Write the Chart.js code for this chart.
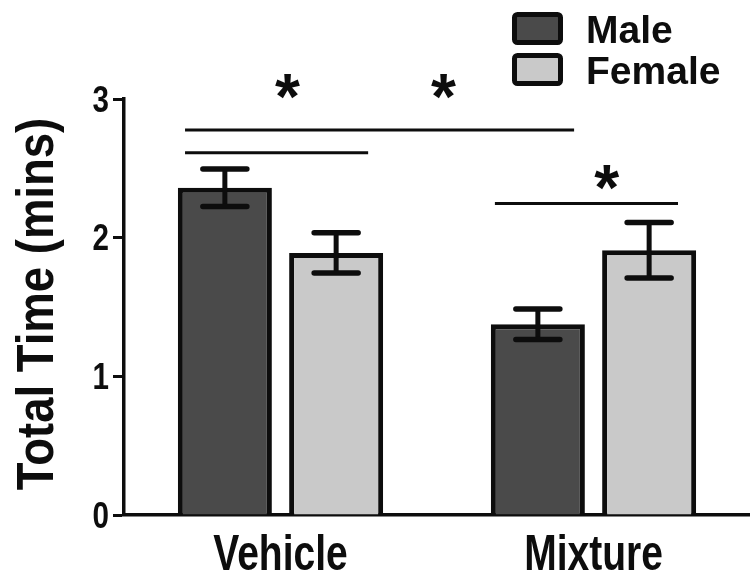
<!DOCTYPE html>
<html>
<head>
<meta charset="utf-8">
<script src="https://cdn.jsdelivr.net/npm/chart.js@4.4.1/dist/chart.umd.min.js"></script>
<style>
  html, body { margin: 0; padding: 0; background: #ffffff; }
  #wrap { width: 750px; height: 572px; }
</style>
</head>
<body>
<div id="wrap"><canvas id="c" width="750" height="572"></canvas></div>
<script>
// Groups and series
const categories = ['Vehicle', 'Mixture'];
const seriesNames = ['Male', 'Female'];

// Mean total time (mins) and SEM per group
const maleMeans = [2.36, 1.375];
const maleSem = [0.135, 0.11];
const femaleMeans = [1.89, 1.91];
const femaleSem = [0.145, 0.2];

// Y axis ticks
const yTicks = [0, 1, 2, 3];

// Significance bars: span along the category axis (index units) and height (mins)
const brackets = [
  { from: -0.305, to: 0.938, y: 2.776 },
  { from: -0.305, to: 0.28, y: 2.612 },
  { from: 0.685, to: 1.27, y: 2.247 }
];
const stars = [
  { x: 0.022, y: 3.09, text: '*' },
  { x: 0.521, y: 3.09, text: '*' },
  { x: 1.042, y: 2.433, text: '*' }
];

const INK = '#0d0d0d';
const MALE_FILL = '#4a4a4a';
const FEMALE_FILL = '#c9c9c9';
const SANS = '"Liberation Sans", Arial, Helvetica, sans-serif';

// Draws text squeezed horizontally (condensed axis lettering)
function condensedText(ctx, text, x, y, squeeze, align) {
  ctx.save();
  ctx.translate(x, y);
  ctx.scale(squeeze, 1);
  ctx.textAlign = align;
  ctx.fillText(text, 0, 0);
  ctx.restore();
}

// SEM error bars with caps
const errorBars = {
  id: 'errorBars',
  afterDatasetsDraw(chart) {
    const ctx = chart.ctx;
    const y = chart.scales.y;
    const sems = [maleSem, femaleSem];
    ctx.save();
    ctx.strokeStyle = INK;
    chart.data.datasets.forEach((ds, di) => {
      const meta = chart.getDatasetMeta(di);
      meta.data.forEach((bar, i) => {
        const v = ds.data[i];
        const top = y.getPixelForValue(v + sems[di][i]);
        const bot = y.getPixelForValue(v - sems[di][i]);
        ctx.lineWidth = 5;
        ctx.lineCap = 'butt';
        ctx.beginPath();
        ctx.moveTo(bar.x, top);
        ctx.lineTo(bar.x, bot);
        ctx.stroke();
        ctx.lineWidth = 5.5;
        ctx.lineCap = 'round';
        ctx.beginPath();
        ctx.moveTo(bar.x - 22, top); ctx.lineTo(bar.x + 22, top);
        ctx.moveTo(bar.x - 22, bot); ctx.lineTo(bar.x + 22, bot);
        ctx.stroke();
      });
    });
    ctx.restore();
  }
};

// Comparison lines and asterisks
const significance = {
  id: 'significance',
  afterDatasetsDraw(chart) {
    const ctx = chart.ctx;
    const xs = chart.scales.x, ys = chart.scales.y;
    ctx.save();
    ctx.strokeStyle = INK;
    ctx.lineWidth = 3;
    ctx.lineCap = 'butt';
    brackets.forEach(b => {
      const yy = ys.getPixelForValue(b.y);
      ctx.beginPath();
      ctx.moveTo(xs.getPixelForValue(b.from), yy);
      ctx.lineTo(xs.getPixelForValue(b.to), yy);
      ctx.stroke();
    });
    ctx.fillStyle = INK;
    ctx.font = 'bold 100px ' + SANS;
    const m0 = ctx.measureText('*');
    const ink0 = m0.actualBoundingBoxLeft + m0.actualBoundingBoxRight;
    const size = 25 / ink0 * 100;
    ctx.font = 'bold ' + size + 'px ' + SANS;
    ctx.textAlign = 'left';
    ctx.textBaseline = 'alphabetic';
    stars.forEach(s => {
      const m = ctx.measureText(s.text);
      const cx = xs.getPixelForValue(s.x);
      const cy = ys.getPixelForValue(s.y);
      const w = m.actualBoundingBoxLeft + m.actualBoundingBoxRight;
      const h = m.actualBoundingBoxAscent + m.actualBoundingBoxDescent;
      ctx.fillText(s.text, cx - w / 2 + m.actualBoundingBoxLeft, cy + h / 2 - m.actualBoundingBoxDescent);
    });
    ctx.restore();
  }
};

// Axis lettering: category names, y tick numbers and the rotated y title
const axisText = {
  id: 'axisText',
  afterDraw(chart) {
    const ctx = chart.ctx;
    const xs = chart.scales.x, ys = chart.scales.y;
    ctx.save();
    ctx.fillStyle = INK;
    ctx.textBaseline = 'alphabetic';

    ctx.font = 'bold 50px ' + SANS;
    categories.forEach((c, i) => {
      condensedText(ctx, c, xs.getPixelForValue(i), 570, 0.78, 'center');
    });

    ctx.font = 'bold 37px ' + SANS;
    yTicks.forEach(v => {
      condensedText(ctx, String(v), 109, ys.getPixelForValue(v) + 12.5, 0.8, 'right');
    });

    ctx.save();
    ctx.translate(53, 304);
    ctx.rotate(-Math.PI / 2);
    ctx.font = 'bold 52px ' + SANS;
    condensedText(ctx, 'Total Time (mins)', 0, 0, 0.875, 'center');
    ctx.restore();

    ctx.restore();
  }
};

// Legend boxes and labels in the top-right corner
const boxLegend = {
  id: 'boxLegend',
  afterDraw(chart) {
    const ctx = chart.ctx;
    ctx.save();
    ctx.font = 'bold 39px ' + SANS;
    ctx.textAlign = 'left';
    ctx.textBaseline = 'alphabetic';
    chart.data.datasets.forEach((ds, i) => {
      const top = 12 + i * 41;
      ctx.fillStyle = ds.backgroundColor;
      ctx.strokeStyle = INK;
      ctx.lineWidth = 5;
      ctx.beginPath();
      ctx.roundRect(514.5, top + 2.5, 46, 28, 3);
      ctx.fill();
      ctx.stroke();
      ctx.fillStyle = INK;
      ctx.fillText(ds.label, 586, top + 31);
    });
    ctx.restore();
  }
};

new Chart(document.getElementById('c'), {
  type: 'bar',
  data: {
    labels: categories,
    datasets: [
      { label: seriesNames[0], data: maleMeans, backgroundColor: MALE_FILL, borderColor: INK, borderWidth: 5 },
      { label: seriesNames[1], data: femaleMeans, backgroundColor: FEMALE_FILL, borderColor: INK, borderWidth: 5 }
    ]
  },
  options: {
    responsive: false,
    animation: false,
    devicePixelRatio: 1,
    categoryPercentage: 0.711,
    barPercentage: 0.845,
    layout: { padding: { top: 99, left: 0, right: 0, bottom: 0 } },
    plugins: { legend: { display: false }, tooltip: { enabled: false }, title: { display: false } },
    scales: {
      x: {
        z: 1,
        afterFit: s => { s.height = 57; },
        grid: { display: false },
        border: { display: true, color: INK, width: 3.5 },
        ticks: { display: false }
      },
      y: {
        min: 0,
        max: 3,
        afterBuildTicks: s => { s.ticks = yTicks.map(v => ({ value: v })); },
        afterFit: s => { s.width = 124; },
        grid: { drawOnChartArea: false, drawTicks: true, tickLength: 11, tickWidth: 3, tickColor: INK },
        border: { display: true, color: INK, width: 3.5 },
        ticks: { display: false }
      }
    }
  },
  plugins: [errorBars, significance, axisText, boxLegend]
});
</script>
</body>
</html>
